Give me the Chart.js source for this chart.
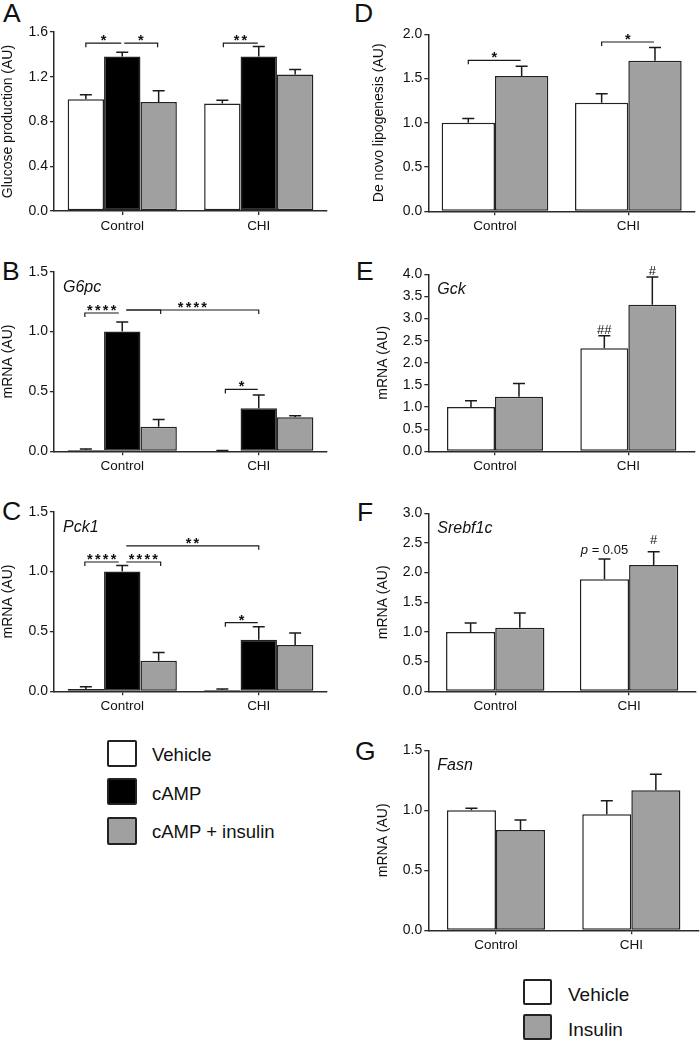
<!DOCTYPE html>
<html>
<head>
<meta charset="utf-8">
<script src="https://cdn.jsdelivr.net/npm/chart.js@4.4.1/dist/chart.umd.min.js"></script>
<style>
  body { margin: 0; background: #fff; width: 700px; height: 1042px; position: relative; overflow: hidden;
         font-family: 'Liberation Sans', Arial, sans-serif; color: #111; }
  canvas { position: absolute; }
  .letter { position: absolute; font-size: 26.5px; line-height: 26px; }
  .key { position: absolute; box-sizing: border-box; border: 2px solid #222; border-radius: 2px; }
  .ktext { position: absolute; line-height: 20px; white-space: nowrap; }
</style>
</head>
<body>
<div class="letter" style="left:3px;top:0px">A</div>
<div class="letter" style="left:2px;top:258px">B</div>
<div class="letter" style="left:2px;top:498px">C</div>
<div class="letter" style="left:354px;top:0px">D</div>
<div class="letter" style="left:356px;top:258px">E</div>
<div class="letter" style="left:357px;top:499px">F</div>
<div class="letter" style="left:355px;top:738px">G</div>

<div class="key" style="left:107px;top:740px;width:30px;height:27px;background:#fff"></div>
<div class="key" style="left:107px;top:778px;width:30px;height:27px;background:#000"></div>
<div class="key" style="left:107px;top:817px;width:30px;height:28px;background:#a0a0a0"></div>
<div class="ktext" style="left:152px;top:745px;font-size:18.5px">Vehicle</div>
<div class="ktext" style="left:152px;top:784px;font-size:18.5px">cAMP</div>
<div class="ktext" style="left:152px;top:822px;font-size:18.5px">cAMP + insulin</div>

<div class="key" style="left:523px;top:979px;width:29px;height:26px;background:#fff"></div>
<div class="key" style="left:523px;top:1014px;width:29px;height:26px;background:#a0a0a0"></div>
<div class="ktext" style="left:568px;top:985px;font-size:19px">Vehicle</div>
<div class="ktext" style="left:568px;top:1020px;font-size:19px">Insulin</div>

<script>
// ---- data ----
const groups = ['Control', 'CHI'];

// A: glucose production
const glucoseVehicle = [1.00, 0.96];
const glucoseVehicleSem = [0.04, 0.03];
const glucoseCamp = [1.38, 1.38];
const glucoseCampSem = [0.04, 0.09];
const glucoseCampIns = [0.975, 1.22];
const glucoseCampInsSem = [0.10, 0.045];
const yTicksA = [0, 0.4, 0.8, 1.2, 1.6];

// B: G6pc
const g6pcVehicle = [0.01, 0.005];
const g6pcVehicleSem = [0.01, 0.002];
const g6pcCamp = [1.00, 0.36];
const g6pcCampSem = [0.08, 0.11];
const g6pcCampIns = [0.205, 0.285];
const g6pcCampInsSem = [0.06, 0.012];

// C: Pck1
const pck1Vehicle = [0.02, 0.01];
const pck1VehicleSem = [0.018, 0.01];
const pck1Camp = [1.00, 0.43];
const pck1CampSem = [0.05, 0.11];
const pck1CampIns = [0.255, 0.387];
const pck1CampInsSem = [0.07, 0.10];
const yTicksBC = [0, 0.5, 1.0, 1.5];

// D: de novo lipogenesis
const dnlVehicle = [1.00, 1.227];
const dnlVehicleSem = [0.05, 0.10];
const dnlInsulin = [1.53, 1.70];
const dnlInsulinSem = [0.11, 0.15];
const yTicksD = [0, 0.5, 1.0, 1.5, 2.0];

// E: Gck
const gckVehicle = [1.00, 2.33];
const gckVehicleSem = [0.14, 0.28];
const gckInsulin = [1.23, 3.31];
const gckInsulinSem = [0.30, 0.63];
const yTicksE = [0, 0.5, 1.0, 1.5, 2.0, 2.5, 3.0, 3.5, 4.0];

// F: Srebf1c
const srebfVehicle = [1.00, 1.89];
const srebfVehicleSem = [0.15, 0.34];
const srebfInsulin = [1.07, 2.13];
const srebfInsulinSem = [0.25, 0.22];
const yTicksF = [0, 0.5, 1.0, 1.5, 2.0, 2.5, 3.0];

// G: Fasn
const fasnVehicle = [1.00, 0.967];
const fasnVehicleSem = [0.017, 0.113];
const fasnInsulin = [0.836, 1.167];
const fasnInsulinSem = [0.083, 0.133];
const yTicksG = [0, 0.5, 1.0, 1.5];

// ---- drawing ----
const FONT = "'Liberation Sans', Arial, sans-serif";
const INK = '#111';
const AXIS = '#2a2a2a';
const WHITE = '#ffffff', BLACK = '#000000', GREY = '#a0a0a0';

// error bars, brackets, stars, gene names
const annot = {
  id: 'annot',
  afterDatasetsDraw(chart, args, opts) {
    const ctx = chart.ctx, y = chart.scales.y, area = chart.chartArea;
    ctx.save();
    ctx.strokeStyle = '#1a1a1a';
    ctx.fillStyle = INK;

    chart.data.datasets.forEach((ds, i) => {
      chart.getDatasetMeta(i).data.forEach((bar, j) => {
        const top = y.getPixelForValue(ds.data[j] + ds.sem[j]);
        ctx.lineWidth = 1.5;
        ctx.beginPath();
        ctx.moveTo(bar.x, bar.y);
        ctx.lineTo(bar.x, top);
        ctx.moveTo(bar.x - 6, top);
        ctx.lineTo(bar.x + 6, top);
        ctx.stroke();
      });
    });

    if (opts.gene) {
      ctx.font = 'italic 16px ' + FONT;
      ctx.textAlign = 'left';
      ctx.textBaseline = 'alphabetic';
      ctx.fillText(opts.gene, area.left + 9, area.top + 20);
    }

    const barX = (ref) => chart.getDatasetMeta(ref[0]).data[ref[1]].x;
    (opts.brackets || []).forEach(b => {
      const x0 = barX(b.from) + b.dx[0];
      const x1 = barX(b.to) + b.dx[1];
      const py = y.getPixelForValue(b.y);
      ctx.lineWidth = 1.2;
      ctx.beginPath();
      ctx.moveTo(x0, py + (b.ticks[0] ? 4 : 0));
      ctx.lineTo(x0, py);
      ctx.lineTo(x1, py);
      ctx.lineTo(x1, py + (b.ticks[1] ? 4 : 0));
      ctx.stroke();
      if (b.text) {
        ctx.font = 'bold 14.5px ' + FONT;
        ctx.textAlign = 'center';
        ctx.textBaseline = 'alphabetic';
        ctx.letterSpacing = '2.2px';
        ctx.fillText(b.text, (x0 + x1) / 2 + 1, py + 2);
        ctx.letterSpacing = '0px';
      }
    });

    (opts.marks || []).forEach(m => {
      const ds = chart.data.datasets[m.ds];
      const bar = chart.getDatasetMeta(m.ds).data[m.cat];
      const top = y.getPixelForValue(ds.data[m.cat] + ds.sem[m.cat]);
      ctx.textBaseline = 'alphabetic';
      ctx.textAlign = 'left';
      const parts = m.parts.map(p => ({ t: p.t, f: (p.italic ? 'italic ' : '') + '13px ' + FONT }));
      let w = 0;
      parts.forEach(p => { ctx.font = p.f; p.w = ctx.measureText(p.t).width; w += p.w; });
      let x = bar.x - w / 2;
      parts.forEach(p => { ctx.font = p.f; ctx.fillText(p.t, x, top - m.gap); x += p.w; });
    });
    ctx.restore();
  }
};

function series(label, data, sem, color, cat) {
  return { label, data, sem, backgroundColor: color, borderColor: '#222', borderWidth: 1.5,
           borderSkipped: false, categoryPercentage: cat, barPercentage: 1 };
}

function panel(box, yTicks, yTitle, datasets, annotOpts) {
  const c = document.createElement('canvas');
  c.width = box.w; c.height = box.h;
  c.style.left = box.x + 'px'; c.style.top = box.y + 'px';
  document.body.appendChild(c);
  return new Chart(c, {
    type: 'bar',
    data: { labels: groups, datasets },
    options: {
      responsive: false,
      animation: false,
      layout: { padding: { top: box.padTop, right: box.padRight, left: 0, bottom: 0 } },
      plugins: { legend: { display: false }, tooltip: { enabled: false }, annot: annotOpts },
      scales: {
        x: {
          grid: { drawOnChartArea: false, offset: false, tickLength: 4, color: AXIS, lineWidth: 1.3 },
          border: { color: AXIS, width: 1.5 },
          ticks: { color: INK, font: { family: FONT, size: 13.5 }, padding: 3, maxRotation: 0 },
          afterFit: s => { s.height = box.xH; }
        },
        y: {
          min: yTicks[0],
          max: yTicks[yTicks.length - 1],
          afterBuildTicks: s => { s.ticks = yTicks.map(v => ({ value: v })); },
          grid: { drawOnChartArea: false, tickLength: 4, color: AXIS, lineWidth: 1.3 },
          border: { color: AXIS, width: 1.5 },
          ticks: { color: INK, font: { family: FONT, size: 14 }, padding: 2, callback: v => v.toFixed(1) },
          title: { display: true, text: yTitle, color: INK, font: { family: FONT, size: 14 },
                   padding: { top: box.titlePad, bottom: 0 } },
          afterFit: s => { s.width = box.yW; }
        }
      }
    },
    plugins: [annot]
  });
}

// A
panel({ x: 0, y: 0, w: 340, h: 240, yW: 54, padTop: 32, padRight: 13, xH: 29, titlePad: 0 },
  yTicksA, 'Glucose production (AU)', [
    series('Vehicle', glucoseVehicle, glucoseVehicleSem, WHITE, 0.8),
    series('cAMP', glucoseCamp, glucoseCampSem, BLACK, 0.8),
    series('cAMP + insulin', glucoseCampIns, glucoseCampInsSem, GREY, 0.8)
  ], {
    brackets: [
      { from: [0, 0], to: [1, 0], y: 1.5, dx: [0, -1], ticks: [1, 0], text: '*' },
      { from: [1, 0], to: [2, 0], y: 1.5, dx: [2, -1], ticks: [0, 1], text: '*' },
      { from: [0, 1], to: [1, 1], y: 1.5, dx: [1, -1], ticks: [1, 0], text: '**' }
    ]
  });

// B
panel({ x: 0, y: 240, w: 340, h: 240, yW: 54, padTop: 31.7, padRight: 13, xH: 28.7, titlePad: 0 },
  yTicksBC, 'mRNA (AU)', [
    series('Vehicle', g6pcVehicle, g6pcVehicleSem, WHITE, 0.8),
    series('cAMP', g6pcCamp, g6pcCampSem, BLACK, 0.8),
    series('cAMP + insulin', g6pcCampIns, g6pcCampInsSem, GREY, 0.8)
  ], {
    gene: 'G6pc',
    brackets: [
      { from: [0, 0], to: [1, 0], y: 1.155, dx: [-1, -3.5], ticks: [1, 0], text: '****' },
      { from: [1, 0], to: [2, 0], y: 1.18, dx: [4, 2], ticks: [0, 1] },
      { from: [1, 0], to: [1, 1], y: 1.18, dx: [4, 0], ticks: [0, 1], text: '****' },
      { from: [0, 1], to: [1, 1], y: 0.517, dx: [3, -1], ticks: [1, 0], text: '*' }
    ]
  });

// C
panel({ x: 0, y: 480, w: 340, h: 240, yW: 54, padTop: 31.7, padRight: 13, xH: 28.7, titlePad: 0 },
  yTicksBC, 'mRNA (AU)', [
    series('Vehicle', pck1Vehicle, pck1VehicleSem, WHITE, 0.8),
    series('cAMP', pck1Camp, pck1CampSem, BLACK, 0.8),
    series('cAMP + insulin', pck1CampIns, pck1CampInsSem, GREY, 0.8)
  ], {
    gene: 'Pck1',
    brackets: [
      { from: [0, 0], to: [1, 0], y: 1.08, dx: [-1, -3.5], ticks: [1, 0], text: '****' },
      { from: [1, 0], to: [2, 0], y: 1.08, dx: [4, 2], ticks: [0, 1], text: '****' },
      { from: [1, 0], to: [1, 1], y: 1.215, dx: [4, 0], ticks: [0, 1], text: '**' },
      { from: [0, 1], to: [1, 1], y: 0.573, dx: [3, -1], ticks: [1, 0], text: '*' }
    ]
  });

// D
panel({ x: 350, y: 0, w: 350, h: 240, yW: 78.3, padTop: 34.3, padRight: 5, xH: 28.7, titlePad: 21 },
  yTicksD, 'De novo lipogenesis (AU)', [
    series('Vehicle', dnlVehicle, dnlVehicleSem, WHITE, 0.8),
    series('Insulin', dnlInsulin, dnlInsulinSem, GREY, 0.8)
  ], {
    brackets: [
      { from: [0, 0], to: [1, 0], y: 1.706, dx: [0, -1], ticks: [1, 0], text: '*' },
      { from: [0, 1], to: [1, 1], y: 1.913, dx: [0, -1], ticks: [1, 0], text: '*' }
    ]
  });

// E
panel({ x: 350, y: 240, w: 350, h: 240, yW: 78.3, padTop: 34.3, padRight: 5, xH: 28.7, titlePad: 25 },
  yTicksE, 'mRNA (AU)', [
    series('Vehicle', gckVehicle, gckVehicleSem, WHITE, 0.72),
    series('Insulin', gckInsulin, gckInsulinSem, GREY, 0.72)
  ], {
    gene: 'Gck',
    marks: [
      { ds: 0, cat: 1, gap: 2, parts: [{ t: '##' }] },
      { ds: 1, cat: 1, gap: 2, parts: [{ t: '#' }] }
    ]
  });

// F
panel({ x: 350, y: 480, w: 350, h: 240, yW: 78.3, padTop: 33.3, padRight: 4, xH: 28.7, titlePad: 25 },
  yTicksF, 'mRNA (AU)', [
    series('Vehicle', srebfVehicle, srebfVehicleSem, WHITE, 0.735),
    series('Insulin', srebfInsulin, srebfInsulinSem, GREY, 0.735)
  ], {
    gene: 'Srebf1c',
    marks: [
      { ds: 0, cat: 1, gap: 5, parts: [{ t: 'p', italic: true }, { t: ' = 0.05' }] },
      { ds: 1, cat: 1, gap: 8, parts: [{ t: '#' }] }
    ]
  });

// G
panel({ x: 350, y: 720, w: 350, h: 240, yW: 78.3, padTop: 30.3, padRight: 1, xH: 29.7, titlePad: 25 },
  yTicksG, 'mRNA (AU)', [
    series('Vehicle', fasnVehicle, fasnVehicleSem, WHITE, 0.725),
    series('Insulin', fasnInsulin, fasnInsulinSem, GREY, 0.725)
  ], { gene: 'Fasn' });
</script>
</body>
</html>
